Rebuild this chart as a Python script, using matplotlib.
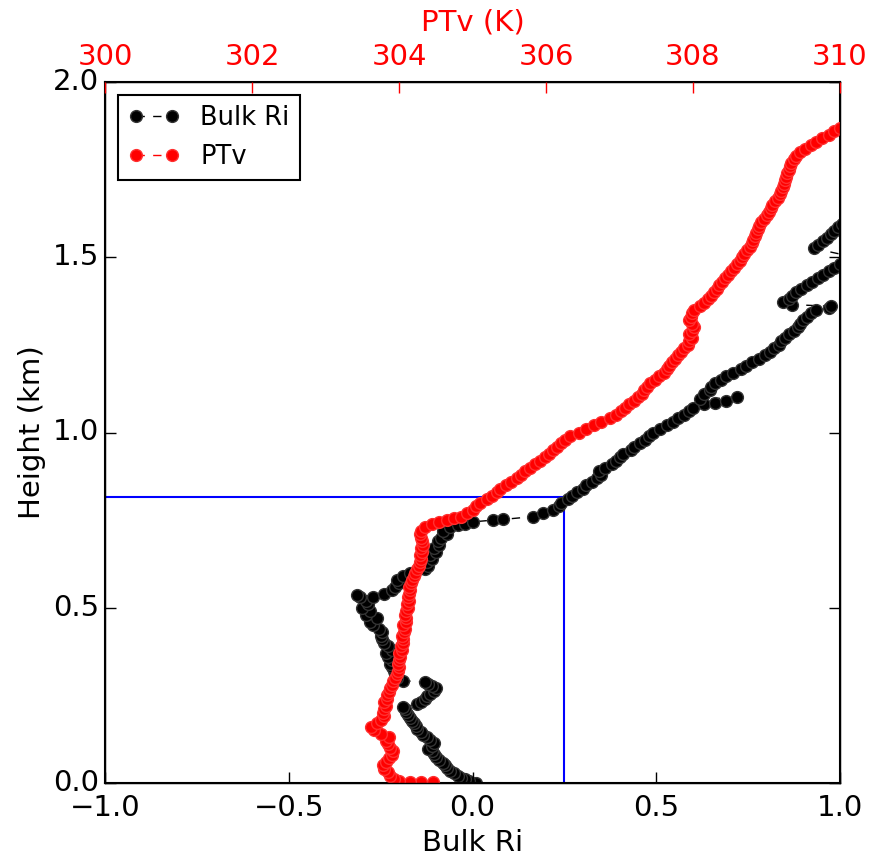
import matplotlib
matplotlib.use("Agg")
import matplotlib.pyplot as plt

# ---- Bulk Ri profile (height km, Ri) ----
ri_height = [0.000, 0.005, 0.010, 0.015, 0.020, 0.028, 0.035, 0.042, 0.050, 0.058,
             0.066, 0.074, 0.082, 0.090, 0.098, 0.106, 0.114, 0.122, 0.130, 0.138,
             0.146, 0.154, 0.162, 0.170, 0.178, 0.186, 0.194, 0.202, 0.210, 0.217,
             0.225, 0.232, 0.240, 0.248, 0.255, 0.262, 0.270, 0.276, 0.282, 0.288,
             0.292, 0.300, 0.310, 0.320, 0.330, 0.340, 0.350, 0.360, 0.370, 0.380,
             0.390, 0.400, 0.410, 0.420, 0.430, 0.440, 0.450, 0.460, 0.470, 0.480,
             0.490, 0.500, 0.510, 0.520, 0.530, 0.536, 0.530, 0.540, 0.550, 0.560,
             0.570, 0.580, 0.590, 0.600, 0.610, 0.620, 0.630, 0.640, 0.650, 0.660,
             0.670, 0.680, 0.690, 0.700, 0.710, 0.720, 0.730, 0.735, 0.740, 0.745,
             0.750, 0.752, 0.760, 0.770, 0.780, 0.790, 0.800, 0.810, 0.820, 0.830,
             0.840, 0.850, 0.860, 0.870, 0.880, 0.890, 0.900, 0.910, 0.920, 0.930,
             0.940, 0.950, 0.960, 0.970, 0.980, 0.990, 1.000, 1.010, 1.020, 1.030,
             1.040, 1.050, 1.060, 1.070, 1.080, 1.085, 1.090, 1.100, 1.095, 1.110,
             1.120, 1.130, 1.140, 1.150, 1.160, 1.170, 1.180, 1.190, 1.200, 1.210,
             1.220, 1.230, 1.240, 1.250, 1.260, 1.270, 1.280, 1.290, 1.300, 1.310,
             1.320, 1.330, 1.340, 1.350, 1.355, 1.360, 1.365, 1.372, 1.380, 1.390,
             1.400, 1.410, 1.420, 1.430, 1.440, 1.450, 1.460, 1.470, 1.480, 1.490,
             1.500, 1.525, 1.535, 1.545, 1.555, 1.565, 1.575, 1.585, 1.595]
ri_values = [0.010, -0.010, -0.020, -0.030, -0.040, -0.050, -0.060, -0.070, -0.075, -0.080,
             -0.090, -0.100, -0.105, -0.110, -0.120, -0.110, -0.105, -0.115, -0.125, -0.135,
             -0.140, -0.150, -0.155, -0.160, -0.165, -0.170, -0.175, -0.180, -0.185, -0.190,
             -0.150, -0.140, -0.130, -0.125, -0.115, -0.105, -0.100, -0.110, -0.120, -0.130,
             -0.190, -0.205, -0.210, -0.215, -0.220, -0.225, -0.220, -0.230, -0.235, -0.220,
             -0.230, -0.240, -0.245, -0.250, -0.245, -0.255, -0.270, -0.280, -0.260, -0.290,
             -0.280, -0.300, -0.285, -0.290, -0.305, -0.315, -0.270, -0.240, -0.220, -0.210,
             -0.200, -0.205, -0.190, -0.170, -0.130, -0.120, -0.125, -0.110, -0.115, -0.100,
             -0.105, -0.090, -0.095, -0.085, -0.070, -0.080, -0.060, -0.040, -0.020, 0.000,
             0.056, 0.083, 0.165, 0.192, 0.220, 0.235, 0.240, 0.260, 0.270, 0.285,
             0.300, 0.310, 0.325, 0.340, 0.350, 0.345, 0.360, 0.380, 0.390, 0.400,
             0.410, 0.430, 0.440, 0.455, 0.470, 0.480, 0.490, 0.510, 0.530, 0.545,
             0.560, 0.575, 0.590, 0.600, 0.630, 0.660, 0.690, 0.720, 0.620, 0.630,
             0.645, 0.650, 0.660, 0.675, 0.690, 0.710, 0.730, 0.745, 0.760, 0.780,
             0.795, 0.810, 0.820, 0.835, 0.840, 0.850, 0.860, 0.875, 0.885, 0.890,
             0.900, 0.910, 0.920, 0.935, 0.970, 0.975, 0.870, 0.845, 0.860, 0.870,
             0.880, 0.895, 0.910, 0.925, 0.940, 0.955, 0.970, 0.985, 1.000, 1.020,
             1.040, 0.930, 0.940, 0.955, 0.965, 0.975, 0.985, 0.995, 1.005]

# ---- Virtual potential temperature profile (height km, K) ----
ptv_height = [0.003, 0.004, 0.003, 0.006, 0.012, 0.020, 0.030, 0.040, 0.050, 0.060,
              0.070, 0.080, 0.090, 0.100, 0.110, 0.120, 0.130, 0.140, 0.150, 0.160,
              0.170, 0.180, 0.190, 0.200, 0.210, 0.220, 0.230, 0.240, 0.250, 0.260,
              0.270, 0.280, 0.290, 0.300, 0.310, 0.320, 0.330, 0.340, 0.350, 0.360,
              0.370, 0.380, 0.390, 0.400, 0.410, 0.420, 0.430, 0.440, 0.450, 0.460,
              0.470, 0.480, 0.490, 0.500, 0.510, 0.520, 0.530, 0.540, 0.550, 0.560,
              0.570, 0.580, 0.590, 0.600, 0.610, 0.620, 0.630, 0.640, 0.650, 0.660,
              0.670, 0.680, 0.690, 0.700, 0.710, 0.720, 0.730, 0.740, 0.745, 0.750,
              0.755, 0.760, 0.770, 0.780, 0.790, 0.800, 0.810, 0.820, 0.830, 0.840,
              0.850, 0.860, 0.870, 0.880, 0.890, 0.900, 0.910, 0.920, 0.930, 0.940,
              0.950, 0.960, 0.970, 0.980, 0.990, 1.000, 1.010, 1.020, 1.030, 1.040,
              1.050, 1.060, 1.070, 1.080, 1.090, 1.100, 1.110, 1.120, 1.130, 1.140,
              1.150, 1.160, 1.170, 1.180, 1.190, 1.200, 1.210, 1.220, 1.230, 1.240,
              1.250, 1.260, 1.270, 1.280, 1.290, 1.300, 1.310, 1.320, 1.330, 1.340,
              1.350, 1.360, 1.370, 1.380, 1.390, 1.400, 1.410, 1.420, 1.430, 1.440,
              1.450, 1.460, 1.470, 1.480, 1.490, 1.500, 1.510, 1.520, 1.530, 1.540,
              1.550, 1.560, 1.570, 1.580, 1.590, 1.600, 1.610, 1.620, 1.630, 1.640,
              1.650, 1.660, 1.670, 1.680, 1.690, 1.700, 1.710, 1.720, 1.730, 1.740,
              1.750, 1.760, 1.770, 1.780, 1.790, 1.800, 1.810, 1.820, 1.830, 1.840,
              1.850, 1.860, 1.870, 1.880]
ptv_values = [304.46, 304.30, 304.15, 304.00, 303.93, 303.88, 303.85, 303.80, 303.78, 303.82,
              303.86, 303.90, 303.92, 303.88, 303.85, 303.82, 303.86, 303.75, 303.66, 303.62,
              303.70, 303.76, 303.80, 303.78, 303.80, 303.82, 303.80, 303.84, 303.83, 303.86,
              303.88, 303.90, 303.92, 303.95, 303.97, 303.99, 304.00, 303.98, 304.00, 304.02,
              304.00, 304.04, 304.03, 304.05, 304.06, 304.04, 304.07, 304.08, 304.06, 304.09,
              304.10, 304.08, 304.10, 304.12, 304.11, 304.13, 304.12, 304.14, 304.15, 304.14,
              304.16, 304.18, 304.20, 304.22, 304.25, 304.27, 304.28, 304.30, 304.29, 304.31,
              304.30, 304.32, 304.31, 304.30, 304.28, 304.30, 304.35, 304.45, 304.55, 304.65,
              304.75, 304.85, 304.92, 305.00, 305.05, 305.10, 305.20, 305.27, 305.33, 305.38,
              305.45, 305.52, 305.60, 305.66, 305.72, 305.78, 305.85, 305.92, 305.98, 306.04,
              306.10, 306.15, 306.20, 306.26, 306.33, 306.45, 306.55, 306.65, 306.75, 306.87,
              306.95, 307.02, 307.08, 307.13, 307.20, 307.25, 307.30, 307.34, 307.38, 307.42,
              307.48, 307.54, 307.60, 307.64, 307.68, 307.72, 307.76, 307.80, 307.84, 307.88,
              307.93, 307.95, 307.98, 307.95, 307.98, 308.02, 307.98, 307.95, 307.97, 307.99,
              308.02, 308.10, 308.15, 308.20, 308.24, 308.28, 308.32, 308.36, 308.40, 308.44,
              308.48, 308.52, 308.56, 308.60, 308.64, 308.67, 308.70, 308.74, 308.77, 308.80,
              308.82, 308.84, 308.86, 308.88, 308.90, 308.93, 308.96, 309.00, 309.03, 309.06,
              309.08, 309.12, 309.15, 309.18, 309.20, 309.22, 309.24, 309.25, 309.27, 309.28,
              309.30, 309.32, 309.34, 309.37, 309.40, 309.45, 309.52, 309.60, 309.68, 309.75,
              309.85, 309.92, 310.00, 310.10]

# threshold marker
ri_crit = 0.25
pbl_height = 0.815

plt.style.use('classic')
plt.rcParams['font.family'] = ['DejaVu Sans']

fig = plt.figure(figsize=(8.76, 8.65), dpi=100, facecolor='white')
ax = fig.add_axes([0.1199, 0.0948, 0.839, 0.8104])
ax.set_facecolor('white')

ax.plot([ri_crit, ri_crit], [0, pbl_height], color='blue', lw=1.5, zorder=1)
ax.plot([-1, ri_crit], [pbl_height, pbl_height], color='blue', lw=1.5, zorder=1)
l1, = ax.plot(ri_values, ri_height, 'k--', marker='o', ms=8.5, mfc='k', mec='#333333',
              mew=1.0, lw=1, label='Bulk Ri', zorder=2)
ax.set_xlim(-1, 1)
ax.set_ylim(0, 2)
ax.set_xticks([-1.0, -0.5, 0.0, 0.5, 1.0])
ax.set_yticks([0.0, 0.5, 1.0, 1.5, 2.0])
ax.set_xlabel('Bulk Ri', fontsize=21)
ax.set_ylabel('Height (km)', fontsize=21)
ax.tick_params(labelsize=21, direction='in', length=8, width=1)
ax.tick_params(axis='x', pad=8)
for s in ax.spines.values():
    s.set_linewidth(1.5)

ax2 = ax.twiny()
l2, = ax2.plot(ptv_values, ptv_height, 'r--', marker='o', ms=8.5, mfc='r', mec='#ff3030',
               mew=1.0, lw=1, label='PTv')
ax2.set_xlim(300, 310)
ax2.set_ylim(0, 2)
ax2.set_xticks([300, 302, 304, 306, 308, 310])
ax2.set_xlabel('PTv (K)', color='r', fontsize=21, labelpad=9)
ax2.tick_params(axis='x', colors='r', labelsize=21, direction='in', length=8, width=1, pad=8)

leg = ax2.legend([l1, l2], ['Bulk Ri', 'PTv'], loc='upper left', fontsize=18.5,
                 numpoints=2, fancybox=False, borderaxespad=0.5)
leg.get_frame().set_linewidth(1.5)
leg.get_frame().set_edgecolor('k')

fig.savefig('out.png', dpi=100, facecolor='white')
